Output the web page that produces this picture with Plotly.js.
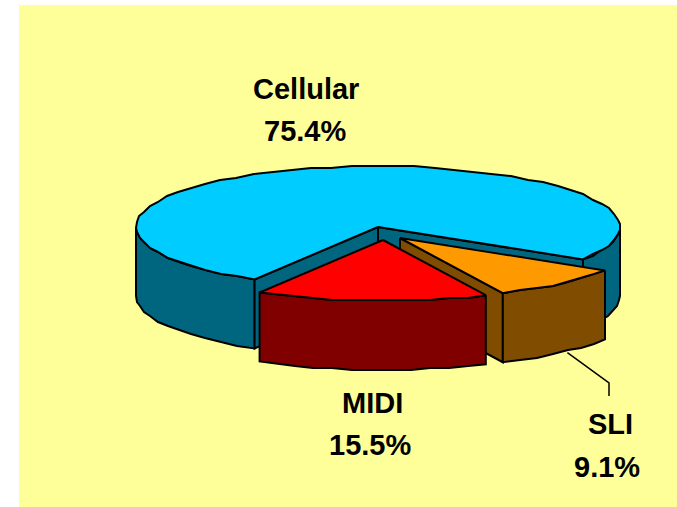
<!DOCTYPE html>
<html>
<head>
<meta charset="utf-8">
<script src="https://cdn.plot.ly/plotly-3.0.1.min.js"></script>
<style>html,body{margin:0;padding:0;background:#fff}#chart{width:677px;height:507px}</style>
</head>
<body>
<div id="chart"></div>
<script>
// Data, in drawing order (back to front)
var categories = ['Cellular', 'SLI', 'MIDI'];
var values = [75.4, 9.1, 15.5];
var valueLabels = ['75.4%', '9.1%', '15.5%'];
var topColors = ['#00CCFF', '#FF9900', '#FF0000'];
var sideColors = ['#006680', '#804C00', '#800000'];

// Pseudo-3D projection settings
var rx = 242, ry = 61, depth = 69;
var startAngle = 122.1; // degrees clockwise from the back of the pie, where SLI begins
var centers = {Cellular: [378, 227], SLI: [400, 238], MIDI: [383, 240]};
var labelPos = {
  Cellular: [[306, 89], [305, 131]],
  MIDI: [[372, 403], [370, 445]],
  SLI: [[610, 424], [607, 467]]
};

var total = values.reduce(function (a, b) { return a + b; }, 0);

function pt(c, deg, dy) {
  var r = deg * Math.PI / 180;
  return [c[0] + rx * Math.sin(r), c[1] - ry * Math.cos(r) + (dy || 0)];
}
function arc(c, a0, a1, dy) {
  var n = Math.max(2, Math.ceil(Math.abs(a1 - a0) / 5)), out = [];
  for (var i = 0; i <= n; i++) {
    var p = pt(c, a0 + (a1 - a0) * i / n, dy);
    out.push([Math.round(p[0]), Math.round(p[1] / 2) * 2]);
  }
  // keep exact corners
  out[0] = pt(c, a0, dy); out[n] = pt(c, a1, dy);
  return out;
}
function poly(points, color) {
  var closed = points.concat([points[0]]);
  return {
    type: 'scatter', mode: 'lines', fill: 'toself', fillcolor: color,
    x: closed.map(function (p) { return p[0]; }),
    y: closed.map(function (p) { return p[1]; }),
    line: {color: '#000', width: 2, shape: 'linear'},
    hoverinfo: 'skip', showlegend: false
  };
}
function outerSide(c, a0, a1, color) {
  return poly(arc(c, a0, a1, 0).concat(arc(c, a1, a0, depth)), color);
}
function innerFace(c, a, color) {
  var p = pt(c, a, 0);
  return poly([c, p, [p[0], p[1] + depth], [c[0], c[1] + depth]], color);
}
function topFace(c, a0, a1, color) {
  return poly([c].concat(arc(c, a0, a1, 0)), color);
}

// Angular extents of each slice; slices run clockwise SLI, MIDI, Cellular
function span(name) {
  var a = startAngle, order = ['SLI', 'MIDI', 'Cellular'];
  for (var i = 0; i < order.length; i++) {
    var sweep = values[categories.indexOf(order[i])] / total * 360;
    if (order[i] === name) return [a, a + sweep];
    a += sweep;
  }
}

var traces = [];
var sC = span('Cellular'), sS = span('SLI'), sM = span('MIDI');
var cC = centers.Cellular, cS = centers.SLI, cM = centers.MIDI;

// Cellular
traces.push(outerSide(cC, sC[0], 270, sideColors[0]));
traces.push(outerSide(cC, 90, sC[1] - 360, sideColors[0]));
traces.push(innerFace(cC, sC[0], sideColors[0]));
traces.push(innerFace(cC, sC[1], sideColors[0]));
traces.push(topFace(cC, sC[0], sC[1], topColors[0]));
// SLI
traces.push(innerFace(cS, sS[1], sideColors[1]));
traces.push(outerSide(cS, sS[0], sS[1], sideColors[1]));
traces.push(topFace(cS, sS[0], sS[1], topColors[1]));
// MIDI
traces.push(outerSide(cM, sM[0], sM[1], sideColors[2]));
traces.push(topFace(cM, sM[0], sM[1], topColors[2]));

// SLI leader line, from the slice's outer rim to its label
var rim = pt(cS, (sS[0] + sS[1]) / 2, depth);
traces.push({
  type: 'scatter', mode: 'lines',
  x: [rim[0] + 7, 609, 609], y: [rim[1], 383, 396],
  line: {color: '#000', width: 1.5}, hoverinfo: 'skip', showlegend: false
});

var annotations = [];
categories.forEach(function (name, i) {
  [name, valueLabels[i]].forEach(function (t, j) {
    annotations.push({
      text: '<b>' + t + '</b>', xref: 'x', yref: 'y',
      x: labelPos[name][j][0], y: labelPos[name][j][1],
      showarrow: false, xanchor: 'center', yanchor: 'middle',
      font: {family: '"Liberation Sans", Arial, sans-serif', size: 29, color: '#000'}
    });
  });
});

var layout = {
  width: 677, height: 507,
  margin: {l: 0, r: 0, t: 0, b: 0},
  paper_bgcolor: '#fff', plot_bgcolor: 'rgba(0,0,0,0)',
  xaxis: {range: [0, 677], visible: false, fixedrange: true},
  yaxis: {range: [507, 0], visible: false, fixedrange: true},
  shapes: [{type: 'rect', layer: 'below', xref: 'x', yref: 'y', x0: 19, x1: 677, y0: 5, y1: 507,
            fillcolor: '#FFFF99', line: {width: 0}}],
  annotations: annotations,
  showlegend: false
};
Plotly.newPlot('chart', traces, layout, {displayModeBar: false, staticPlot: true});
</script>
</body>
</html>
